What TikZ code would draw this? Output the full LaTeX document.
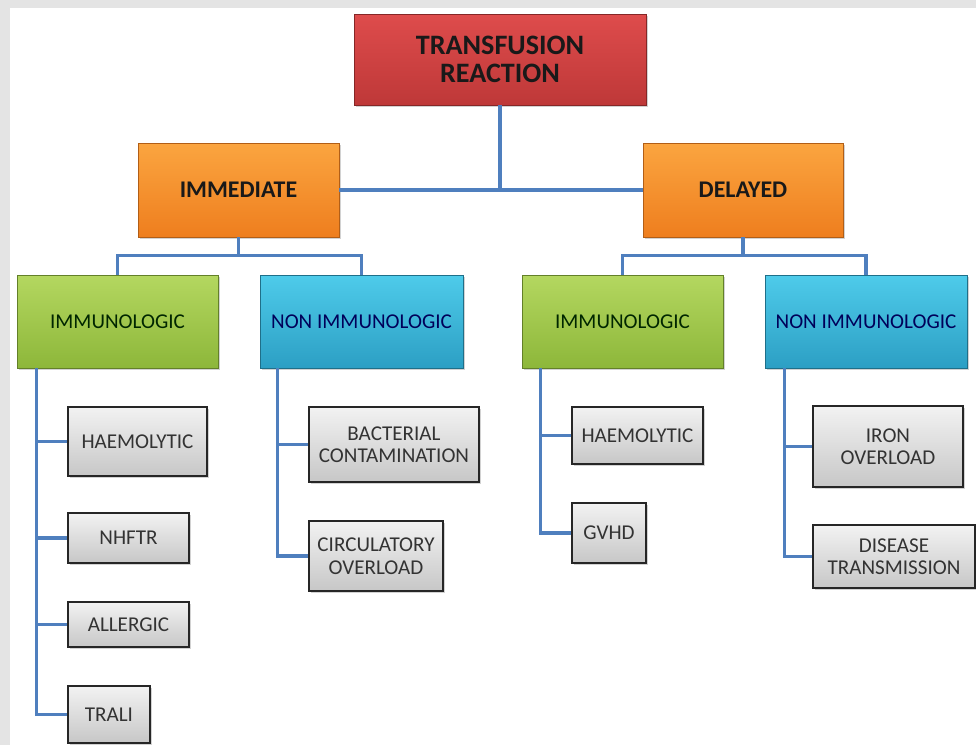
\documentclass[tikz,border=0pt]{standalone}
\usepackage{fontspec}
\setmainfont{Carlito}
\usetikzlibrary{shadows}

\definecolor{framegray}{HTML}{E4E4E4}
\definecolor{linkblue}{HTML}{4F7FBE}
\definecolor{rootTop}{HTML}{DE4C4C}
\definecolor{rootBot}{HTML}{BE3838}
\definecolor{timeTop}{HTML}{FBA540}
\definecolor{timeBot}{HTML}{EE7E1E}
\definecolor{imuTop}{HTML}{B4D760}
\definecolor{imuBot}{HTML}{8DB73A}
\definecolor{nonTop}{HTML}{4ECBEA}
\definecolor{nonBot}{HTML}{2C9FC4}
\newcommand{\pxl}{0.025cm}

\tikzset{
    box/.style={draw, inner sep=0pt, align=center, line width=0.6pt,
        drop shadow={shadow xshift=1.6pt, shadow yshift=-1.6pt, opacity=0.35}},
    rootbox/.style={box, draw=rootBot!70!black, top color=rootTop, bottom color=rootBot,
        text=black!90, font=\fontsize{20}{20}\selectfont\bfseries},
    timebox/.style={box, draw=timeBot!75!black, top color=timeTop, bottom color=timeBot,
        text=black!90, font=\fontsize{17}{19}\selectfont\bfseries},
    imubox/.style={box, draw=imuBot!70!black, top color=imuTop, bottom color=imuBot,
        text=green!15!black, font=\fontsize{15}{17}\selectfont},
    nonbox/.style={box, draw=nonBot!70!black, top color=nonTop, bottom color=nonBot,
        text=blue!35!black, font=\fontsize{15}{17}\selectfont},
    leaf/.style={box, draw=black!85, line width=1.1pt, top color=white!95!black, bottom color=black!22,
        text=black!80, font=\fontsize{15}{16}\selectfont},
    link/.style={draw=linkblue, line width=2.2pt},
}

\begin{document}
\begin{tikzpicture}[x=0.025cm, y=-0.025cm]
    % frame
    \fill [framegray] (0,0) rectangle (976,745);
    \fill [white] (10,8) rectangle (976,745);
    \useasboundingbox (0,0) rectangle (976,745);
    % top levels
    \node [rootbox, minimum width=292*\pxl, minimum height=91*\pxl] (root) at (500,59.5) {TRANSFUSION\\REACTION};
    \node [timebox, minimum width=201*\pxl, minimum height=94*\pxl] (imm) at (238.5,190) {IMMEDIATE};
    \node [timebox, minimum width=200*\pxl, minimum height=94*\pxl] (del) at (743,190) {DELAYED};
    \node [imubox, minimum width=201*\pxl, minimum height=93*\pxl] (immImu) at (117.5,321.5) {IMMUNOLOGIC};
    \node [nonbox, minimum width=203*\pxl, minimum height=93*\pxl] (immNon) at (361.5,321.5) {NON IMMUNOLOGIC};
    \node [imubox, minimum width=201*\pxl, minimum height=93*\pxl] (delImu) at (622.5,321.5) {IMMUNOLOGIC};
    \node [nonbox, minimum width=202*\pxl, minimum height=93*\pxl] (delNon) at (866,321.5) {NON IMMUNOLOGIC};
    % leaves
    \node [leaf, minimum width=139*\pxl, minimum height=69*\pxl] (haemA) at (137.5,441.5) {HAEMOLYTIC};
    \node [leaf, minimum width=121*\pxl, minimum height=50*\pxl] (nhftr) at (128.5,538) {NHFTR};
    \node [leaf, minimum width=121*\pxl, minimum height=45*\pxl] (allergic) at (128.5,624.5) {ALLERGIC};
    \node [leaf, minimum width=82*\pxl, minimum height=57*\pxl] (trali) at (109,714.5) {TRALI};
    \node [leaf, minimum width=170*\pxl, minimum height=75*\pxl] (bact) at (394,444.5) {BACTERIAL\\CONTAMINATION};
    \node [leaf, minimum width=134*\pxl, minimum height=70*\pxl] (circ) at (376,556) {CIRCULATORY\\OVERLOAD};
    \node [leaf, minimum width=131*\pxl, minimum height=57*\pxl] (haemB) at (637.5,435.5) {HAEMOLYTIC};
    \node [leaf, minimum width=74*\pxl, minimum height=60*\pxl] (gvhd) at (609,533) {GVHD};
    \node [leaf, minimum width=150*\pxl, minimum height=81*\pxl] (iron) at (888,446.5) {IRON\\OVERLOAD};
    \node [leaf, minimum width=162*\pxl, minimum height=63*\pxl] (disease) at (894,556.5) {DISEASE\\TRANSMISSION};
    % links
    \draw [link] (root.south) |- (imm.east);
    \draw [link] (root.south) |- (del.west);
    \draw [link] (imm.south) -- ++(0,18) -| (immImu.north);
    \draw [link] (imm.south) -- ++(0,18) -| (immNon.north);
    \draw [link] (del.south) -- ++(0,18) -| (delImu.north);
    \draw [link] (del.south) -- ++(0,18) -| (delNon.north);
    \coordinate (immImuS) at ([xshift=0.5cm]immImu.south west);
    \coordinate (immNonS) at ([xshift=0.45cm]immNon.south west);
    \coordinate (delImuS) at ([xshift=0.48cm]delImu.south west);
    \coordinate (delNonS) at ([xshift=0.5cm]delNon.south west);
    \draw [link] (immImuS) |- (haemA.west);
    \draw [link] (immImuS) |- (nhftr.west);
    \draw [link] (immImuS) |- (allergic.west);
    \draw [link] (immImuS) |- (trali.west);
    \draw [link] (immNonS) |- (bact.west);
    \draw [link] (immNonS) |- (circ.west);
    \draw [link] (delImuS) |- (haemB.west);
    \draw [link] (delImuS) |- (gvhd.west);
    \draw [link] (delNonS) |- (iron.west);
    \draw [link] (delNonS) |- (disease.west);
\end{tikzpicture}
\end{document}
